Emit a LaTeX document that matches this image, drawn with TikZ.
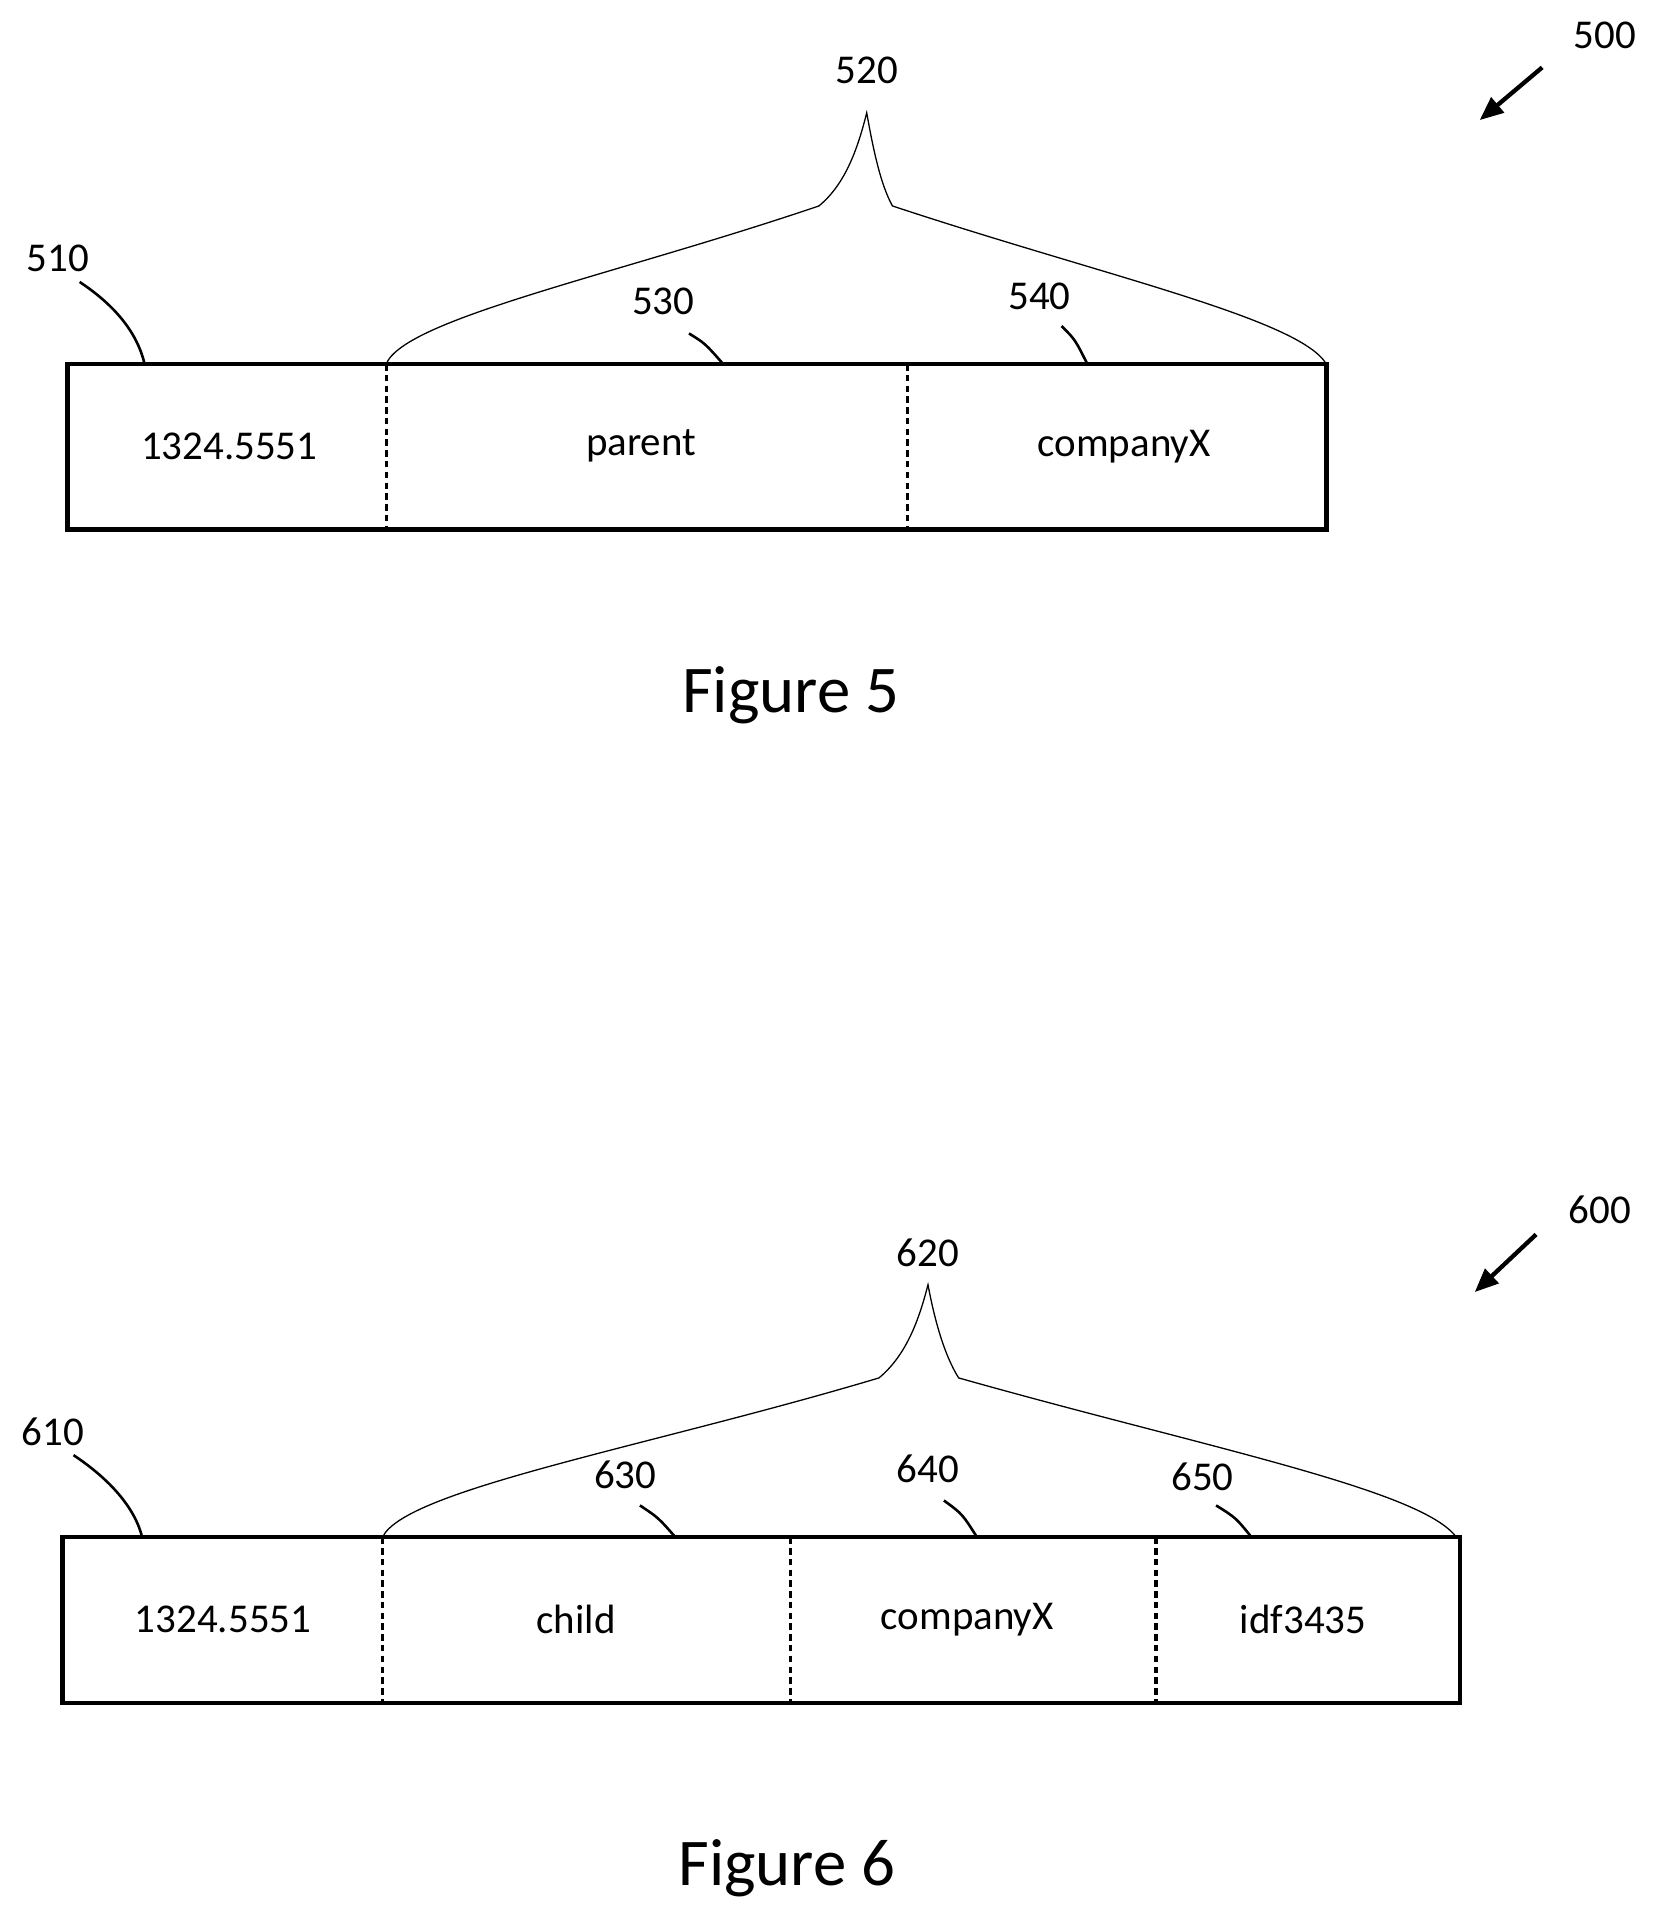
\documentclass[tikz,border=0pt]{standalone}
\usepackage{fontspec}
\setmainfont{Carlito}
\usetikzlibrary{arrows.meta}
\begin{document}
\begin{tikzpicture}[x=0.02cm,y=-0.02cm,
  lbl/.style={font=\fontsize{19}{21}\selectfont,inner sep=0pt},
  figcap/.style={font=\fontsize{31}{34}\selectfont,inner sep=0pt},
  box/.style={draw,line width=2pt},
  div/.style={line width=1.5pt,dash pattern=on 3pt off 2pt},
  lead/.style={line width=1.2pt},
  brace/.style={line width=0.6pt},
  ref/.style={-{Triangle[length=11pt,width=9pt]},line width=2pt}]
\useasboundingbox (0,0) rectangle (1360,1576);
% Figure 5
\draw[box] (55,297) coordinate (b5a) rectangle (1082,432) coordinate (b5b);
\draw[div] (315,297) coordinate (d51) -- (315,432);
\draw[div] (740,297) -- (740,432);
\node[lbl] (t51) at (187,364) {1324.5551};
\node[lbl] (t52) at (523,364) {parent};
\node[lbl] (t53) at (917,364) {companyX};
\node[lbl] (n510) at (47,211) {510};
\node[lbl] (n530) at (541,246) {530};
\node[lbl] (n540) at (848,242) {540};
\node[lbl] (n520) at (707,57) {520};
\node[lbl] (n500) at (1309,29) {500};
\coordinate (e510) at (118,297);
\draw[lead] (65,230) .. controls (95,250) and (112,272) .. (e510);
\draw[lead] (562,272) .. controls (575,280) .. (590,297);
\draw[lead] (866,266) .. controls (877,277) .. (887,297);
\draw[brace] (d51) .. controls (330,260) and (500,225) .. (668,168) .. controls (690,150) and (700,120) .. (707,92)
  .. controls (712,120) and (718,150) .. (728,168) .. controls (900,225) and (1060,260) .. (1082,297);
\coordinate (a5s) at (1258,55); \coordinate (a5e) at (1207,98);
\draw[ref] (a5s) -- (a5e);
\node[figcap] (f5) at (645,567) {Figure 5};
% Figure 6
\draw[box] (51,1254) rectangle (1191,1389);
\draw[div] (312,1254) coordinate (d61) -- (312,1389);
\draw[div] (645,1254) -- (645,1389);
\draw[div] (943,1254) -- (943,1389);
\node[lbl] (t61) at (182,1321) {1324.5551};
\node[lbl] (t62) at (470,1321) {child};
\node[lbl] (t63) at (789,1321) {companyX};
\node[lbl] (t64) at (1063,1321) {idf3435};
\node[lbl] (n610) at (43,1168) {610};
\node[lbl] (n630) at (510,1203) {630};
\node[lbl] (n640) at (757,1198) {640};
\node[lbl] (n650) at (981,1205) {650};
\node[lbl] (n620) at (757,1022) {620};
\node[lbl] (n600) at (1305,987) {600};
\draw[lead] (60,1187) .. controls (90,1207) and (110,1230) .. (116,1254);
\draw[lead] (522,1228) .. controls (537,1238) .. (551,1254);
\draw[lead] (770,1224) .. controls (785,1235) .. (797,1254);
\draw[lead] (992,1228) .. controls (1008,1238) .. (1021,1254);
\draw[brace] (d61) .. controls (330,1215) and (530,1180) .. (717,1124) .. controls (740,1105) and (750,1075) .. (757,1048)
  .. controls (762,1075) and (770,1105) .. (782,1124) .. controls (980,1180) and (1160,1215) .. (1188,1254);
\coordinate (a6s) at (1253,1007); \coordinate (a6e) at (1203,1054);
\draw[ref] (a6s) -- (a6e);
\node[figcap] (f6) at (642,1524) {Figure 6};
\end{tikzpicture}
\end{document}
